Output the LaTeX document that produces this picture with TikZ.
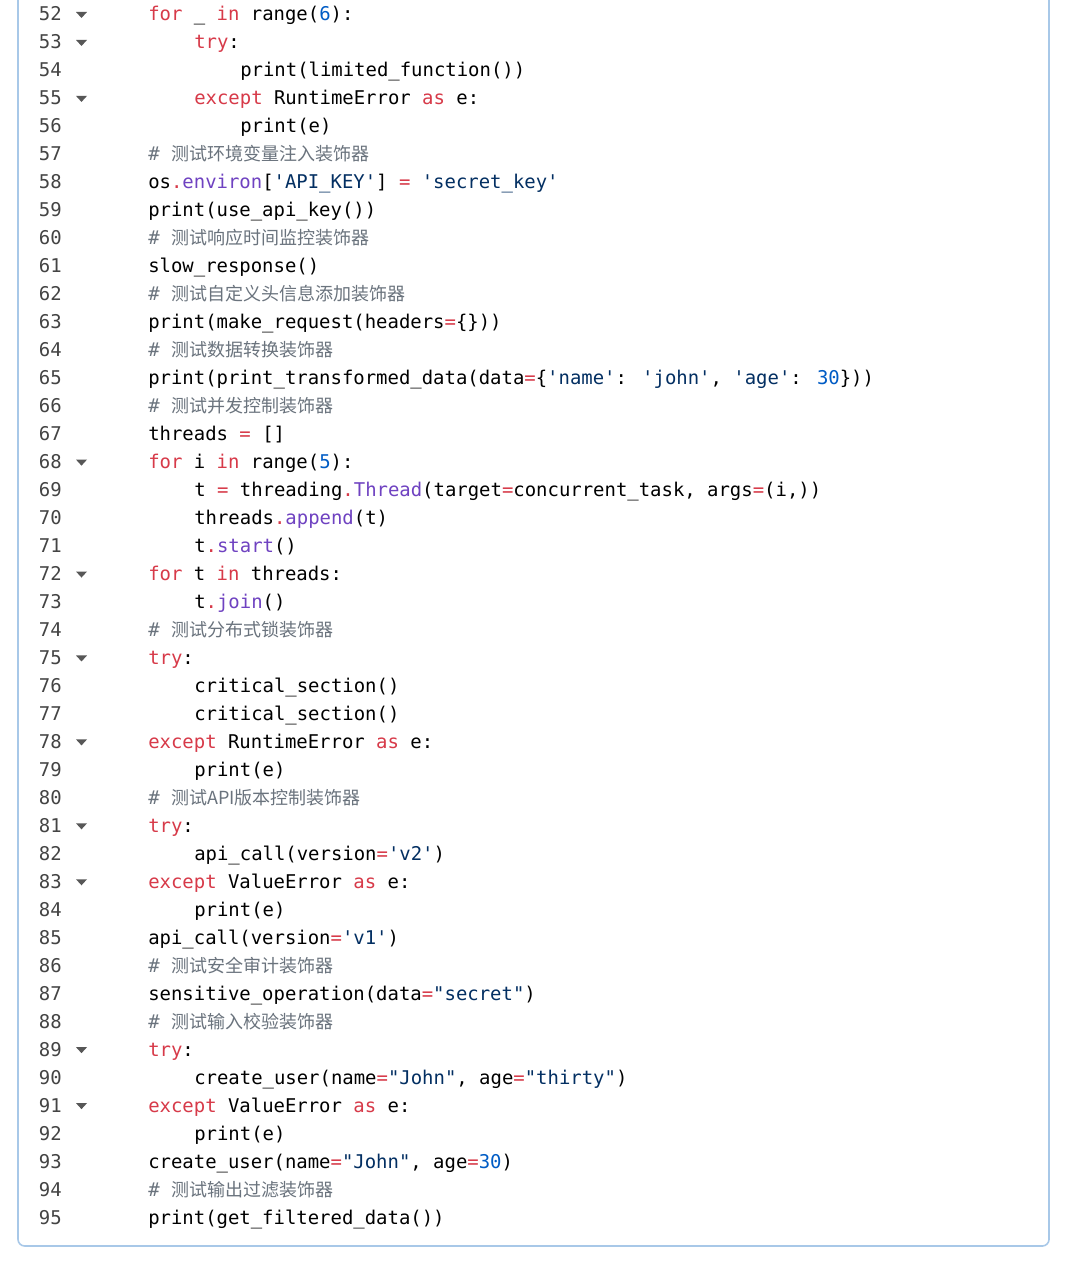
\documentclass[tikz,border=0pt]{standalone}
\usepackage{fontspec}
\newfontfamily\code{DejaVu Sans Mono}
\newfontfamily\cjk{Noto Sans CJK SC}
\definecolor{kw}{HTML}{D73A49}
\definecolor{st}{HTML}{032F62}
\definecolor{nu}{HTML}{005CC5}
\definecolor{fn}{HTML}{6F42C1}
\definecolor{cm}{HTML}{6A737D}
\definecolor{ln}{HTML}{444444}
\definecolor{fr}{HTML}{A8C8E8}
\newcommand\K[1]{\textcolor{kw}{#1}}
\newcommand\Sx[1]{\textcolor{st}{#1}}
\newcommand\Nx[1]{\textcolor{nu}{#1}}
\newcommand\F[1]{\textcolor{fn}{#1}}
\newcommand\C[1]{\textcolor{cm}{\#\ {\cjk\fontsize{13.5pt}{16pt}\selectfont #1}}}
\tikzset{codetxt/.style={anchor=base west,inner sep=0pt,font=\code\fontsize{14.2pt}{17pt}\selectfont,text=black},
lnum/.style={anchor=base east,inner sep=0pt,font=\code\fontsize{14.2pt}{17pt}\selectfont,text=ln},
foldtri/.style={fill=ln!90}}
\newcommand\cl[4]{%
 \pgfmathsetmacro\yy{15+(#1-52)*27.977}%
 \node[lnum] (n#1) at (62,\yy+6) {#1};
 \node[codetxt] (c#1) at (148+#2*46,\yy+6) {#3};
 \ifx#4y\fill[foldtri] (76,\yy-3) -- (87,\yy-3) -- (81.5,\yy+3) -- cycle;\fi}
\begin{document}
\begin{tikzpicture}[x=0.75pt,y=-0.75pt]
\useasboundingbox (0,0) rectangle (1080,1262);
\fill[white] (0,0) rectangle (1080,1262);
\draw[fr,line width=1.2pt,rounded corners=5pt] (18,-10) -- (18,1246) -- (1049,1246) -- (1049,-10);
\cl{52}{0}{\K{for} \_ \K{in} range(\Nx{6}):}{y}
\cl{53}{1}{\K{try}:}{y}
\cl{54}{2}{print(limited\_function())}{n}
\cl{55}{1}{\K{except} RuntimeError \K{as} e:}{y}
\cl{56}{2}{print(e)}{n}
\cl{57}{0}{\C{测试环境变量注入装饰器}}{n}
\cl{58}{0}{os\K{.}\F{environ}[\Sx{'API\_KEY'}] \K{=} \Sx{'secret\_key'}}{n}
\cl{59}{0}{print(use\_api\_key())}{n}
\cl{60}{0}{\C{测试响应时间监控装饰器}}{n}
\cl{61}{0}{slow\_response()}{n}
\cl{62}{0}{\C{测试自定义头信息添加装饰器}}{n}
\cl{63}{0}{print(make\_request(headers\K{=}\{\}))}{n}
\cl{64}{0}{\C{测试数据转换装饰器}}{n}
\cl{65}{0}{print(print\_transformed\_data(data\K{=}\{\Sx{'name'}: \Sx{'john'}, \Sx{'age'}: \Nx{30}\}))}{n}
\cl{66}{0}{\C{测试并发控制装饰器}}{n}
\cl{67}{0}{threads \K{=} []}{n}
\cl{68}{0}{\K{for} i \K{in} range(\Nx{5}):}{y}
\cl{69}{1}{t \K{=} threading\K{.}\F{Thread}(target\K{=}concurrent\_task, args\K{=}(i,))}{n}
\cl{70}{1}{threads\K{.}\F{append}(t)}{n}
\cl{71}{1}{t\K{.}\F{start}()}{n}
\cl{72}{0}{\K{for} t \K{in} threads:}{y}
\cl{73}{1}{t\K{.}\F{join}()}{n}
\cl{74}{0}{\C{测试分布式锁装饰器}}{n}
\cl{75}{0}{\K{try}:}{y}
\cl{76}{1}{critical\_section()}{n}
\cl{77}{1}{critical\_section()}{n}
\cl{78}{0}{\K{except} RuntimeError \K{as} e:}{y}
\cl{79}{1}{print(e)}{n}
\cl{80}{0}{\C{测试API版本控制装饰器}}{n}
\cl{81}{0}{\K{try}:}{y}
\cl{82}{1}{api\_call(version\K{=}\Sx{'v2'})}{n}
\cl{83}{0}{\K{except} ValueError \K{as} e:}{y}
\cl{84}{1}{print(e)}{n}
\cl{85}{0}{api\_call(version\K{=}\Sx{'v1'})}{n}
\cl{86}{0}{\C{测试安全审计装饰器}}{n}
\cl{87}{0}{sensitive\_operation(data\K{=}\Sx{"secret"})}{n}
\cl{88}{0}{\C{测试输入校验装饰器}}{n}
\cl{89}{0}{\K{try}:}{y}
\cl{90}{1}{create\_user(name\K{=}\Sx{"John"}, age\K{=}\Sx{"thirty"})}{n}
\cl{91}{0}{\K{except} ValueError \K{as} e:}{y}
\cl{92}{1}{print(e)}{n}
\cl{93}{0}{create\_user(name\K{=}\Sx{"John"}, age\K{=}\Nx{30})}{n}
\cl{94}{0}{\C{测试输出过滤装饰器}}{n}
\cl{95}{0}{print(get\_filtered\_data())}{n}
\end{tikzpicture}
\end{document}
